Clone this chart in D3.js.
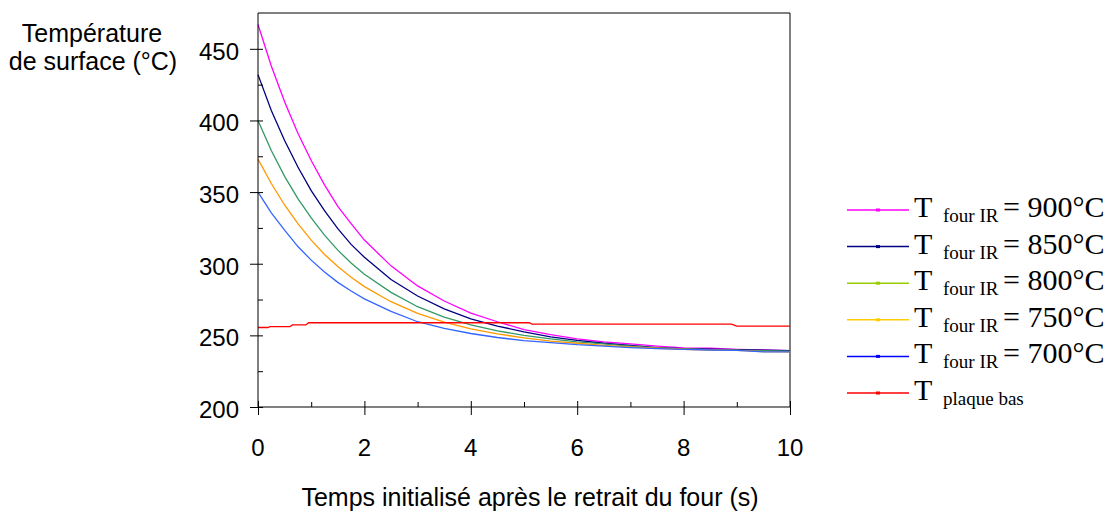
<!DOCTYPE html>
<html>
<head>
<meta charset="utf-8">
<script src="https://cdn.jsdelivr.net/npm/d3@7"></script>
<style>
  body { margin: 0; background: #fff; }
  svg { display: block; }
</style>
</head>
<body>
<svg id="chart"></svg>
<script>
var width = 1117; // Width of the SVG element
var height = 513; // Height of the SVG element

// time (s) after leaving the oven
var timeS = [0, 0.25, 0.5, 0.75, 1, 1.25, 1.5, 1.75, 2, 2.5, 3, 3.5, 4, 4.5, 5, 5.5, 6, 6.5, 7, 7.5, 8, 8.5, 9, 9.5, 10];

// surface temperature (°C) for each IR oven setting
var t900 = [467, 438, 413, 391, 372, 355, 340, 328, 316.5, 298.5, 284.5, 274, 265.5, 259.5, 254, 250.5, 247.5, 245.5, 244, 242.5, 241.3, 241, 240.2, 239.8, 239.3];
var t850 = [432, 407, 386, 367.5, 351, 337, 324.5, 313.5, 304.5, 289, 277.5, 268.5, 261.5, 256.5, 252.5, 249, 246.5, 244.5, 243, 241.5, 240.8, 240.3, 240, 239.6, 239.3];
var t800 = [400, 379, 361, 345.5, 332, 320, 309.5, 300.5, 292.7, 280, 270, 262.8, 257.3, 253.1, 250, 247.5, 245.5, 244, 242.5, 241.3, 240.5, 240, 239.7, 239.3, 239];
var t750 = [373, 356, 341, 328, 316.5, 306.5, 298, 290.5, 284, 273.5, 265.3, 259.3, 254.6, 251, 248.3, 246, 244.5, 243, 242, 241, 240.3, 239.8, 239.5, 238.7, 238.5];
var t700 = [350, 335.5, 323.5, 312, 302.5, 294.3, 287, 281, 275.5, 266.8, 259.5, 254.8, 251.3, 248.5, 246.3, 245, 243.5, 242.5, 241.5, 240.8, 240.2, 239.8, 239.5, 238.5, 238.5];

// bottom plate temperature
var plateTime = [0, 0.19, 0.22, 0.6, 0.65, 0.9, 0.95, 5.1, 5.15, 8.9, 9.0, 10];
var plateTemp = [255.5, 255.5, 256.1, 256.1, 257.3, 257.3, 258.8, 258.8, 257.9, 257.9, 256.4, 256.4];

var yTicks = [200, 250, 300, 350, 400, 450];
var xTicks = [0, 2, 4, 6, 8, 10];

var legendSub = ["four IR", "four IR", "four IR", "four IR", "four IR", "plaque bas"];
var legendValue = ["= 900°C", "= 850°C", "= 800°C", "= 750°C", "= 700°C", ""];
var lineColors = ["#ff00ff", "#000080", "#339966", "#ff9900", "#3366ff", "#ff0000"];
var legendColors = ["#ff00ff", "#000080", "#99cc00", "#ffcc00", "#0000ff", "#ff0000"];

var series = [t900, t850, t800, t750, t700].map(function(vals, i) {
  return { color: lineColors[i], points: timeS.map(function(t, j) { return [t, vals[j]]; }) };
});
series.push({ color: lineColors[5], points: plateTime.map(function(t, j) { return [t, plateTemp[j]]; }) });

var svg = d3.select("#chart")
  .attr("width", width)
  .attr("height", height);

var x = d3.scaleLinear().domain([0, 10]).range([258, 790]);
var y = d3.scaleLinear().domain([200, 475]).range([407, 13]);

var sans = "'Liberation Sans', Arial, sans-serif";
var serif = "'Liberation Serif', 'Times New Roman', serif";

// plot frame (top and right)
svg.append("path")
  .attr("d", "M" + x(0) + "," + y(475) + "H" + x(10) + "V" + y(200))
  .attr("fill", "none")
  .attr("stroke", "#000")
  .attr("stroke-width", 1);

// lines
var line = d3.line()
  .x(function(d) { return x(d[0]); })
  .y(function(d) { return y(d[1]); });

svg.selectAll(".series")
  .data(series)
  .enter()
  .append("path")
  .attr("class", "series")
  .attr("d", function(d) { return line(d.points); })
  .attr("fill", "none")
  .attr("stroke", function(d) { return d.color; })
  .attr("stroke-width", 1.3);

// y axis: major ticks cross, minor ticks inside
var yAxis = svg.append("g").attr("transform", "translate(" + x(0) + ",0)");
yAxis.call(d3.axisLeft(y).tickValues(yTicks).tickSize(8).tickSizeOuter(0).tickFormat(""));
yAxis.append("g").call(d3.axisRight(y).tickValues(yTicks).tickSize(5).tickSizeOuter(0).tickFormat(""));
yAxis.append("g").call(d3.axisRight(y).tickValues([225, 275, 325, 375, 425]).tickSize(5).tickSizeOuter(0).tickFormat(""));
yAxis.selectAll(".domain").remove();
yAxis.append("line").attr("y1", y(200)).attr("y2", y(475)).attr("stroke", "#000");

svg.selectAll(".ylab")
  .data(yTicks)
  .enter()
  .append("text")
  .attr("class", "ylab")
  .attr("x", 239)
  .attr("y", function(d) { return y(d) + 11; })
  .attr("text-anchor", "end")
  .style("font-family", sans)
  .style("font-size", "24px")
  .text(function(d) { return d; });

// x axis
var xAxis = svg.append("g").attr("transform", "translate(0," + y(200) + ")");
xAxis.call(d3.axisBottom(x).tickValues(xTicks).tickSize(8).tickSizeOuter(0).tickFormat(""));
xAxis.append("g").call(d3.axisTop(x).tickValues(xTicks).tickSize(6).tickSizeOuter(0).tickFormat(""));
xAxis.append("g").call(d3.axisTop(x).tickValues([1, 3, 5, 7, 9]).tickSize(5).tickSizeOuter(0).tickFormat(""));
xAxis.selectAll(".domain").remove();
xAxis.append("line").attr("x1", x(0)).attr("x2", x(10)).attr("stroke", "#000");

svg.selectAll(".xlab")
  .data(xTicks)
  .enter()
  .append("text")
  .attr("class", "xlab")
  .attr("x", function(d) { return x(d); })
  .attr("y", 456)
  .attr("text-anchor", "middle")
  .style("font-family", sans)
  .style("font-size", "24px")
  .text(function(d) { return d; });

// axis titles
svg.append("text")
  .attr("x", 530)
  .attr("y", 506)
  .attr("text-anchor", "middle")
  .style("font-family", sans)
  .style("font-size", "25px")
  .text("Temps initialisé après le retrait du four (s)");

var yt = svg.append("text")
  .attr("text-anchor", "middle")
  .style("font-family", sans)
  .style("font-size", "25px");
yt.append("tspan").attr("x", 92).attr("y", 42).text("Température");
yt.append("tspan").attr("x", 93).attr("y", 70).text("de surface (°C)");

// legend
var legend = svg.selectAll(".legend")
  .data(legendSub)
  .enter()
  .append("g")
  .attr("class", "legend")
  .attr("transform", function(d, i) { return "translate(0," + (210 + i * 36.6) + ")"; });

legend.append("line")
  .attr("x1", 847)
  .attr("x2", 909)
  .attr("stroke", function(d, i) { return legendColors[i]; })
  .attr("stroke-width", 1.5);

legend.append("rect")
  .attr("x", 876)
  .attr("y", -1.5)
  .attr("width", 4)
  .attr("height", 3)
  .attr("fill", function(d, i) { return legendColors[i]; });

var lt = legend.append("text")
  .style("font-family", serif)
  .attr("y", 7);
lt.append("tspan").attr("x", 914).style("font-size", "30px").text("T");
lt.append("tspan").attr("x", 943).attr("dy", 5).style("font-size", "19px").text(function(d) { return d; });
lt.append("tspan").attr("x", 1003).attr("dy", -5).style("font-size", "30px").text(function(d, i) { return legendValue[i]; });
</script>
</body>
</html>
